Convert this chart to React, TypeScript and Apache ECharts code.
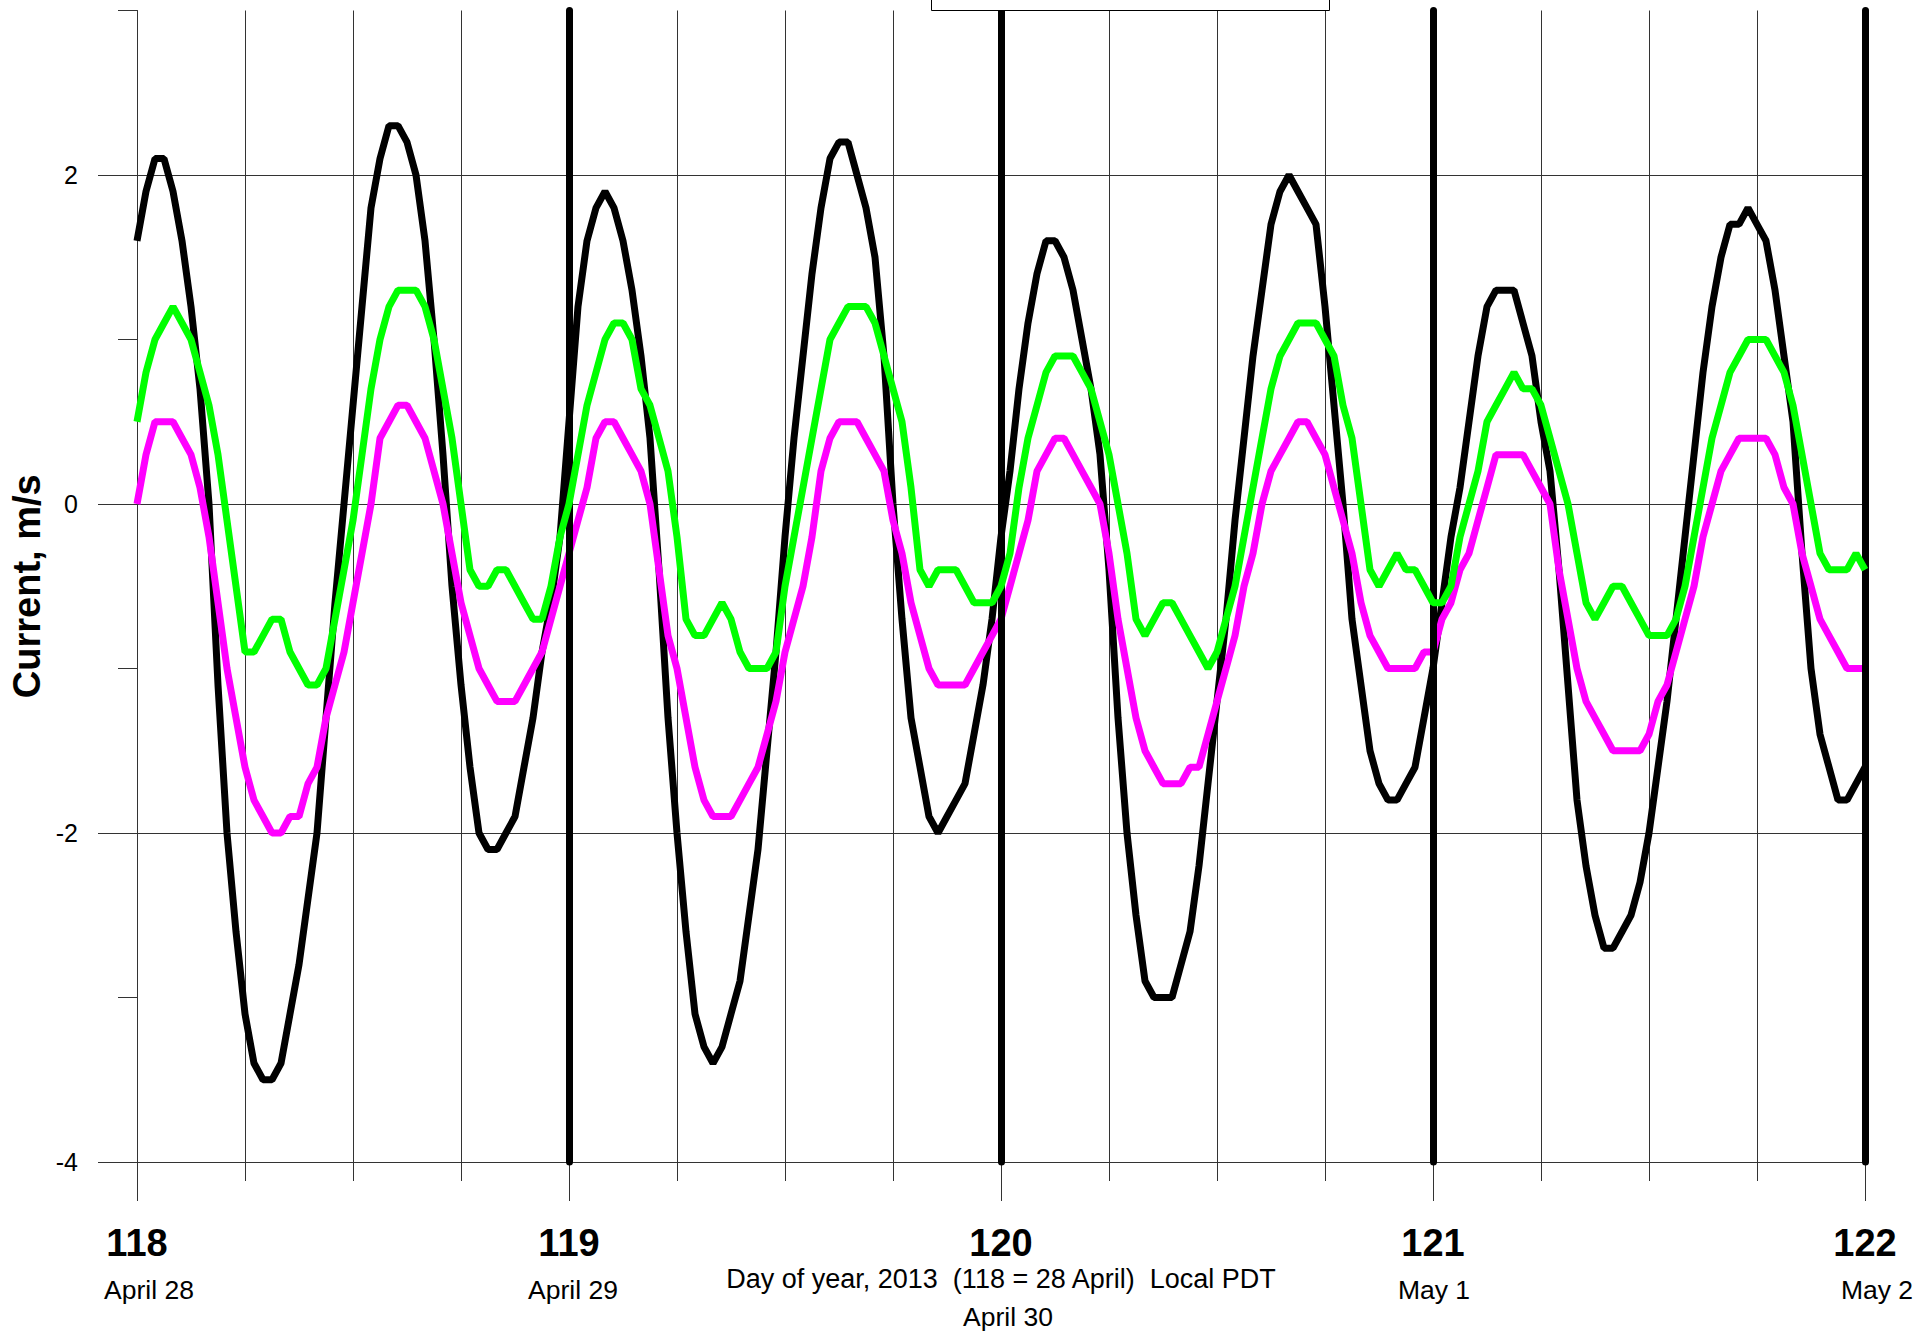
import React, { useEffect, useRef } from 'react';
import * as echarts from 'echarts';

// ---- data ----
const START_DAY = 118; // first sample, day of year
const STEP_HOURS = 0.5; // half-hourly samples
const dayTicks = [118, 119, 120, 121, 122];
const dateLabels = ['April 28', 'April 29', 'April 30', 'May 1', 'May 2'];
const yLabelValues = [-4, -2, 0, 2];

// black trace, every half hour from 118.0 to 122.0
const blackValues = [
  1.6, 1.9, 2.1, 2.1, 1.9, 1.6, 1.2, 0.7, 0.0, -1.1, -2.0, -2.6,
  -3.1, -3.4, -3.5, -3.5, -3.4, -3.1, -2.8, -2.4, -2.0, -1.3, -0.6, 0.0,
  0.6, 1.2, 1.8, 2.1, 2.3, 2.3, 2.2, 2.0, 1.6, 1.0, 0.3, -0.5,
  -1.1, -1.6, -2.0, -2.1, -2.1, -2.0, -1.9, -1.6, -1.3, -0.9, -0.6, -0.2,
  0.5, 1.2, 1.6, 1.8, 1.9, 1.8, 1.6, 1.3, 0.9, 0.4, -0.4, -1.3,
  -2.0, -2.6, -3.1, -3.3, -3.4, -3.3, -3.1, -2.9, -2.5, -2.1, -1.5, -0.9,
  -0.2, 0.4, 0.9, 1.4, 1.8, 2.1, 2.2, 2.2, 2.0, 1.8, 1.5, 0.9,
  0.0, -0.7, -1.3, -1.6, -1.9, -2.0, -1.9, -1.8, -1.7, -1.4, -1.1, -0.7,
  -0.2, 0.2, 0.7, 1.1, 1.4, 1.6, 1.6, 1.5, 1.3, 1.0, 0.7, 0.3,
  -0.4, -1.3, -2.0, -2.5, -2.9, -3.0, -3.0, -3.0, -2.8, -2.6, -2.2, -1.7,
  -1.2, -0.7, -0.1, 0.4, 0.9, 1.3, 1.7, 1.9, 2.0, 1.9, 1.8, 1.7,
  1.2, 0.6, 0.0, -0.7, -1.1, -1.5, -1.7, -1.8, -1.8, -1.7, -1.6, -1.3,
  -1.0, -0.6, -0.2, 0.1, 0.5, 0.9, 1.2, 1.3, 1.3, 1.3, 1.1, 0.9,
  0.5, 0.2, -0.4, -1.1, -1.8, -2.2, -2.5, -2.7, -2.7, -2.6, -2.5, -2.3,
  -2.0, -1.6, -1.2, -0.7, -0.2, 0.3, 0.8, 1.2, 1.5, 1.7, 1.7, 1.8,
  1.7, 1.6, 1.3, 0.9, 0.5, -0.3, -1.0, -1.4, -1.6, -1.8, -1.8, -1.7,
  -1.6,
];

// green trace
const greenValues = [
  0.5, 0.8, 1.0, 1.1, 1.2, 1.1, 1.0, 0.8, 0.6, 0.3, -0.1, -0.5,
  -0.9, -0.9, -0.8, -0.7, -0.7, -0.9, -1.0, -1.1, -1.1, -1.0, -0.7, -0.4,
  -0.1, 0.3, 0.7, 1.0, 1.2, 1.3, 1.3, 1.3, 1.2, 1.0, 0.7, 0.4,
  0.0, -0.4, -0.5, -0.5, -0.4, -0.4, -0.5, -0.6, -0.7, -0.7, -0.5, -0.2,
  0.0, 0.3, 0.6, 0.8, 1.0, 1.1, 1.1, 1.0, 0.7, 0.6, 0.4, 0.2,
  -0.2, -0.7, -0.8, -0.8, -0.7, -0.6, -0.7, -0.9, -1.0, -1.0, -1.0, -0.9,
  -0.5, -0.2, 0.1, 0.4, 0.7, 1.0, 1.1, 1.2, 1.2, 1.2, 1.1, 0.9,
  0.7, 0.5, 0.1, -0.4, -0.5, -0.4, -0.4, -0.4, -0.5, -0.6, -0.6, -0.6,
  -0.5, -0.3, 0.1, 0.4, 0.6, 0.8, 0.9, 0.9, 0.9, 0.8, 0.7, 0.5,
  0.3, 0.0, -0.3, -0.7, -0.8, -0.7, -0.6, -0.6, -0.7, -0.8, -0.9, -1.0,
  -0.9, -0.7, -0.5, -0.2, 0.1, 0.4, 0.7, 0.9, 1.0, 1.1, 1.1, 1.1,
  1.0, 0.9, 0.6, 0.4, 0.0, -0.4, -0.5, -0.4, -0.3, -0.4, -0.4, -0.5,
  -0.6, -0.6, -0.5, -0.2, 0.0, 0.2, 0.5, 0.6, 0.7, 0.8, 0.7, 0.7,
  0.6, 0.4, 0.2, 0.0, -0.3, -0.6, -0.7, -0.6, -0.5, -0.5, -0.6, -0.7,
  -0.8, -0.8, -0.8, -0.7, -0.5, -0.2, 0.1, 0.4, 0.6, 0.8, 0.9, 1.0,
  1.0, 1.0, 0.9, 0.8, 0.6, 0.3, 0.0, -0.3, -0.4, -0.4, -0.4, -0.3,
  -0.4,
];

// magenta trace
const magentaValues = [
  0.0, 0.3, 0.5, 0.5, 0.5, 0.4, 0.3, 0.1, -0.2, -0.6, -1.0, -1.3,
  -1.6, -1.8, -1.9, -2.0, -2.0, -1.9, -1.9, -1.7, -1.6, -1.3, -1.1, -0.9,
  -0.6, -0.3, 0.0, 0.4, 0.5, 0.6, 0.6, 0.5, 0.4, 0.2, 0.0, -0.3,
  -0.6, -0.8, -1.0, -1.1, -1.2, -1.2, -1.2, -1.1, -1.0, -0.9, -0.7, -0.5,
  -0.3, -0.1, 0.1, 0.4, 0.5, 0.5, 0.4, 0.3, 0.2, 0.0, -0.4, -0.8,
  -1.0, -1.3, -1.6, -1.8, -1.9, -1.9, -1.9, -1.8, -1.7, -1.6, -1.4, -1.2,
  -0.9, -0.7, -0.5, -0.2, 0.2, 0.4, 0.5, 0.5, 0.5, 0.4, 0.3, 0.2,
  -0.1, -0.3, -0.6, -0.8, -1.0, -1.1, -1.1, -1.1, -1.1, -1.0, -0.9, -0.8,
  -0.7, -0.5, -0.3, -0.1, 0.2, 0.3, 0.4, 0.4, 0.3, 0.2, 0.1, 0.0,
  -0.3, -0.7, -1.0, -1.3, -1.5, -1.6, -1.7, -1.7, -1.7, -1.6, -1.6, -1.4,
  -1.2, -1.0, -0.8, -0.5, -0.3, 0.0, 0.2, 0.3, 0.4, 0.5, 0.5, 0.4,
  0.3, 0.1, -0.1, -0.3, -0.6, -0.8, -0.9, -1.0, -1.0, -1.0, -1.0, -0.9,
  -0.9, -0.7, -0.6, -0.4, -0.3, -0.1, 0.1, 0.3, 0.3, 0.3, 0.3, 0.2,
  0.1, 0.0, -0.4, -0.7, -1.0, -1.2, -1.3, -1.4, -1.5, -1.5, -1.5, -1.5,
  -1.4, -1.2, -1.1, -0.9, -0.7, -0.5, -0.2, 0.0, 0.2, 0.3, 0.4, 0.4,
  0.4, 0.4, 0.3, 0.1, 0.0, -0.3, -0.5, -0.7, -0.8, -0.9, -1.0, -1.0,
  -1.0,
];

const FONT = '"Liberation Sans", Arial, Helvetica, sans-serif';
const GRID_COLOR = '#333333';
const TRACE_WIDTH = 7;
const DATE_FONT = 26.5;

function toPairs(values: number[]) {
  return values.map((v, i) => [START_DAY + (i * STEP_HOURS) / 24, v]);
}

function dateStyle(padLeft: number) {
  return { fontSize: DATE_FONT, lineHeight: 44, color: '#000', fontFamily: FONT, padding: [0, 0, 0, padLeft] };
}

export default function App() {
  const ref = useRef<HTMLDivElement>(null);

  useEffect(() => {
    if (!ref.current) return;
    const chart = echarts.init(ref.current, null, { renderer: 'svg' });

    const option: any = {
      animation: false,
      backgroundColor: '#ffffff',
      textStyle: { fontFamily: FONT },
      grid: {
        left: 137,
        top: 10.5,
        width: 1728,
        height: 1151.5,
        containLabel: false,
        outerBoundsMode: 'none',
      },
      xAxis: [
        {
          type: 'value',
          min: 118,
          max: 122,
          interval: 0.25,
          position: 'bottom',
          axisLine: { show: false, onZero: false },
          axisTick: { show: true, length: 19, lineStyle: { color: GRID_COLOR, width: 1 } },
          axisLabel: { show: false },
          splitLine: { show: true, lineStyle: { color: GRID_COLOR, width: 1 } },
        },
        {
          type: 'value',
          min: 118,
          max: 122,
          interval: 1,
          position: 'bottom',
          axisLine: { show: false, onZero: false },
          axisTick: { show: true, length: 39, lineStyle: { color: GRID_COLOR, width: 1 } },
          splitLine: { show: false },
          axisLabel: {
            show: true,
            showMinLabel: true,
            showMaxLabel: true,
            margin: 56,
            color: '#000',
            fontFamily: FONT,
            formatter: (value: number) => {
              const i = dayTicks.indexOf(value);
              if (i < 0) return '';
              if (i === 2) return `{day|${value}}\n{gap| }\n{d${i}|${dateLabels[i]}}`;
              return `{day|${value}}\n{d${i}|${dateLabels[i]}}`;
            },
            rich: {
              day: { fontSize: 38, fontWeight: 'bold', lineHeight: 50, color: '#000', fontFamily: FONT },
              gap: { fontSize: 10, lineHeight: 27 },
              d0: dateStyle(24),
              d1: dateStyle(8),
              d2: dateStyle(14),
              d3: dateStyle(2),
              d4: dateStyle(24),
            },
          },
          name: 'Day of year, 2013  (118 = 28 April)  Local PDT',
          nameLocation: 'middle',
          nameGap: 103,
          nameMoveOverlap: false,
          nameTextStyle: { fontSize: 27, color: '#000', fontFamily: FONT },
        },
      ],
      yAxis: [
        {
          type: 'value',
          min: -4,
          max: 3,
          interval: 1,
          position: 'left',
          axisLine: { show: true, onZero: false, lineStyle: { color: GRID_COLOR, width: 1 } },
          axisTick: { show: true, length: 19, lineStyle: { color: GRID_COLOR, width: 1 } },
          axisLabel: { show: false },
          splitLine: { show: true, lineStyle: { color: [GRID_COLOR, 'rgba(0,0,0,0)'], width: 1 } },
        },
        {
          type: 'value',
          min: -4,
          max: 3,
          interval: 1,
          position: 'left',
          axisLine: { show: false, onZero: false },
          axisTick: { show: true, length: 39, customValues: yLabelValues, lineStyle: { color: GRID_COLOR, width: 1 } },
          axisLabel: {
            show: true,
            customValues: yLabelValues,
            margin: 59,
            fontSize: 25,
            color: '#000',
            fontFamily: FONT,
          },
          splitLine: { show: false },
          name: 'Current, m/s',
          nameLocation: 'middle',
          nameRotate: 90,
          nameGap: 91,
          nameMoveOverlap: false,
          nameTextStyle: { fontSize: 38, fontWeight: 'bold', color: '#000', fontFamily: FONT },
        },
      ],
      graphic: [
        {
          type: 'rect',
          shape: { x: 931.5, y: -10, width: 398, height: 20.5 },
          style: { fill: '#ffffff', stroke: '#000000', lineWidth: 1 },
          z: 100,
        },
      ],
      series: [
        {
          type: 'line',
          name: 'black',
          xAxisIndex: 0,
          yAxisIndex: 0,
          data: toPairs(blackValues),
          symbol: 'none',
          showSymbol: false,
          lineStyle: { color: '#000000', width: TRACE_WIDTH },
          z: 3,
          silent: true,
        },
        {
          type: 'line',
          name: 'magenta',
          xAxisIndex: 0,
          yAxisIndex: 0,
          data: toPairs(magentaValues),
          symbol: 'none',
          showSymbol: false,
          lineStyle: { color: '#ff00ff', width: TRACE_WIDTH },
          z: 4,
          silent: true,
        },
        {
          type: 'line',
          name: 'green',
          xAxisIndex: 0,
          yAxisIndex: 0,
          data: toPairs(greenValues),
          symbol: 'none',
          showSymbol: false,
          lineStyle: { color: '#00ff00', width: TRACE_WIDTH },
          z: 5,
          silent: true,
        },
        {
          type: 'line',
          name: 'days',
          xAxisIndex: 0,
          yAxisIndex: 0,
          data: [],
          z: 10,
          silent: true,
          markLine: {
            silent: true,
            symbol: ['none', 'none'],
            label: { show: false },
            emphasis: { disabled: true },
            lineStyle: { color: '#000000', width: 7, type: 'solid', cap: 'round' },
            data: dayTicks.slice(1).map((d) => ({ xAxis: d })),
          },
        },
      ],
    };

    chart.setOption(option);
    return () => chart.dispose();
  }, []);

  return (
    <div
      ref={ref}
      style={{ position: 'absolute', left: 0, top: 0, width: 1915, height: 1332, background: '#fff' }}
    />
  );
}
